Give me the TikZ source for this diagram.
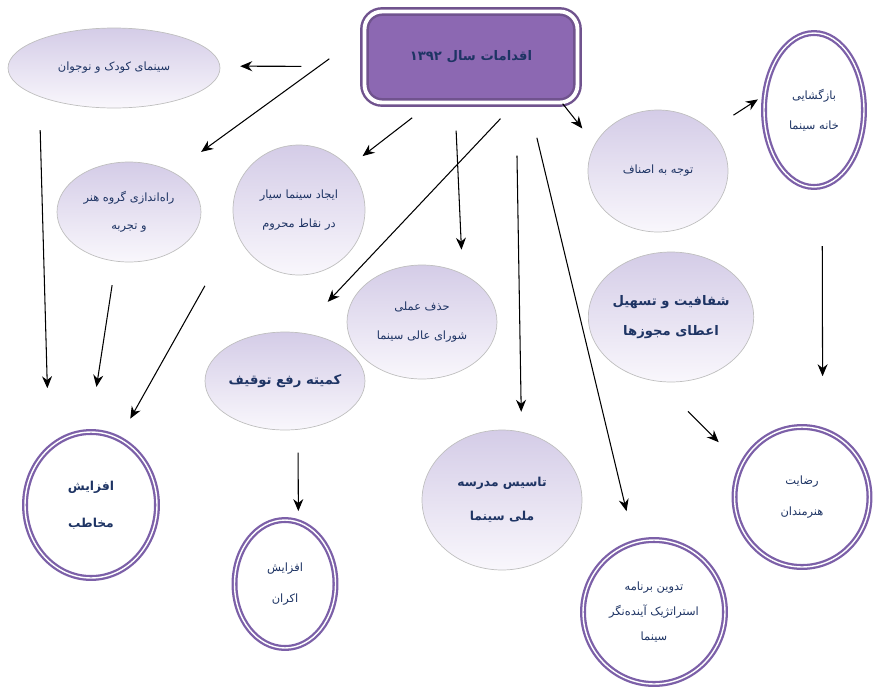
\documentclass[tikz,border=0pt]{standalone}
\usepackage{fontspec}
\usepackage{tikz}
\usetikzlibrary{shapes.geometric, arrows.meta}
\newfontfamily\farsifont[Script=Arabic]{DejaVu Sans}
\TeXXeTstate=1
\newcommand{\fa}[1]{{\farsifont\beginR #1\endR}}
\definecolor{hubpurple}{RGB}{140,104,178}
\definecolor{ringpurple}{RGB}{124,96,168}
\definecolor{bubbletop}{RGB}{212,204,231}
\definecolor{bubblebot}{RGB}{249,247,252}
\definecolor{labelnavy}{RGB}{30,52,100}
\tikzset{
    hub/.style={rectangle, rounded corners=10pt, draw=hubpurple!80!black, double=white, double distance=2.2pt, line width=1.4pt, fill=hubpurple, text=labelnavy, minimum width=4.26cm, minimum height=1.82cm, font=\fontsize{7.5}{9}\selectfont\bfseries},
    bubble/.style={ellipse, draw=black!25, top color=bubbletop, bottom color=bubblebot, inner sep=0pt, align=center, text=labelnavy, font=\fontsize{6.5}{8}\selectfont},
    ring/.style={ellipse, draw=ringpurple, double=white, double distance=0.8pt, line width=1.3pt, fill=white, inner sep=0pt, align=center, text=labelnavy, font=\fontsize{6.5}{8}\selectfont},
    arrow/.style={-{Stealth[length=2.4mm, width=2mm]}, semithick},
}
\begin{document}
\begin{tikzpicture}[x=0.02cm, y=-0.02cm]
    \useasboundingbox (0,0) rectangle (876,697);

    % Hub
    \node[hub] (hub) at (471,57) {\fa{اقدامات سال ۱۳۹۲}};

    % First row
    \node[bubble, minimum width=4.24cm, minimum height=1.6cm] (kid) at (114,68) {\fa{سینمای کودک و نوجوان}};
    \node[bubble, minimum width=2.88cm, minimum height=2cm] (rah) at (129,212) {\fa{راه‌اندازی گروه هنر}\\[8pt]\fa{و تجربه}};
    \node[bubble, minimum width=2.64cm, minimum height=2.6cm] (siyar) at (299,210) {\fa{ایجاد سینما سیار}\\[8pt]\fa{در نقاط محروم}};
    \node[bubble, minimum width=2.8cm, minimum height=2.44cm] (ostaf) at (658,171) {\fa{توجه به اصناف}};
    \node[ring, minimum width=2cm, minimum height=3.08cm] (bazg) at (814,110) {\fa{بازگشایی}\\[9pt]\fa{خانه سینما}};

    % Middle row
    \node[bubble, minimum width=3cm, minimum height=2.28cm] (hadhf) at (422,322) {\fa{حذف عملی}\\[8pt]\fa{شورای عالی سینما}};
    \node[bubble, minimum width=3.2cm, minimum height=1.96cm, font=\fontsize{7.5}{9}\selectfont\bfseries] (komite) at (285,381) {\fa{کمیته رفع توقیف}};
    \node[bubble, minimum width=3.24cm, minimum height=2.6cm, font=\fontsize{7.5}{9}\selectfont\bfseries] (shafaf) at (671,317) {\fa{شفافیت و تسهیل}\\[8pt]\fa{اعطای مجوزها}};

    % Outcomes
    \node[ring, minimum width=2.64cm, minimum height=2.92cm, font=\fontsize{7}{9}\selectfont\bfseries] (mokhatab) at (91,505) {\fa{افزایش}\\[12pt]\fa{مخاطب}};
    \node[bubble, minimum width=3.2cm, minimum height=2.8cm, font=\fontsize{7}{9}\selectfont\bfseries] (tasis) at (502,500) {\fa{تاسیس مدرسه}\\[10pt]\fa{ملی سینما}};
    \node[ring, minimum width=2.7cm, minimum height=2.8cm] (redayat) at (802,497) {\fa{رضایت}\\[10pt]\fa{هنرمندان}};
    \node[ring, minimum width=2.02cm, minimum height=2.56cm] (ekran) at (285,584) {\fa{افزایش}\\[10pt]\fa{اکران}};
    \node[ring, minimum width=2.84cm, minimum height=2.88cm] (tadvin) at (654,612) {\fa{تدوین برنامه}\\[6pt]\fa{استراتژیک آینده‌نگر}\\[6pt]\fa{سینما}};

    % Arrows
    \draw[arrow, shorten <=1.24cm, shorten >=0.4cm] (hub.185) -- (kid.1);
    \draw[arrow, shorten <=0.84cm, shorten >=0.69cm] (hub.168) -- (rah.42);
    \draw[arrow, shorten <=0.46cm, shorten >=0.35cm] (hub.229) -- (siyar.41);
    \draw[arrow, shorten <=0.54cm, shorten >=0.48cm] (hub.251) -- (hadhf.50);
    \draw[arrow, shorten <=0.41cm, shorten >=0.84cm] (hub.313) -- (komite.74);
    \draw[arrow, shorten <=1.04cm, shorten >=0.4cm] (hub.314) -- (tasis.74);
    \draw[arrow, shorten <=0.7cm, shorten >=0.63cm] (hub.321) -- (tadvin.106);
    \draw[arrow, shorten >=0.4cm] (hub.333) -- (ostaf.157);
    \draw[arrow, shorten <=0.55cm, shorten >=0.14cm] (ostaf.38) -- (bazg.164);
    \draw[arrow, shorten <=1.18cm, shorten >=1.06cm] (bazg.276) -- (redayat.73);
    \draw[arrow, shorten <=0.84cm, shorten >=0.63cm] (shafaf.259) -- (redayat.152);
    \draw[arrow, shorten <=0.67cm, shorten >=1.18cm] (kid.201) -- (mokhatab.126);
    \draw[arrow, shorten <=0.48cm, shorten >=0.89cm] (rah.255) -- (mokhatab.91);
    \draw[arrow, shorten <=1.27cm, shorten >=0.44cm] (siyar.198) -- (mokhatab.67);
    \draw[arrow, shorten <=0.46cm, shorten >=0.2cm] (komite.285) -- (ekran.78);
\end{tikzpicture}
\end{document}
